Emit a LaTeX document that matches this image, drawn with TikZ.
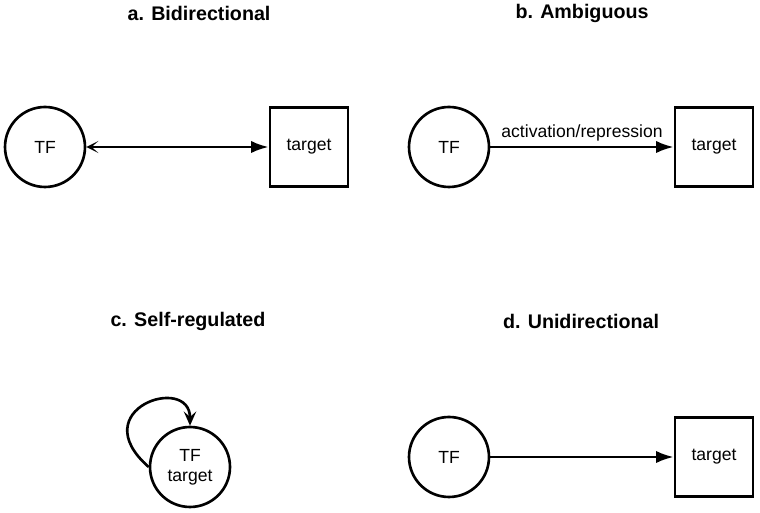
\documentclass[tikz,border=0pt]{standalone}
\usepackage{fontspec}
\setmainfont{Liberation Sans}
\usetikzlibrary{arrows.meta}

\begin{document}
\begin{tikzpicture}[x=0.02cm,y=0.02cm,
    tf/.style={circle,draw,line width=1.5pt,minimum size=1.6cm,inner sep=0pt,font=\fontsize{10}{11.5}\selectfont},
    gene/.style={rectangle,draw,line width=1.5pt,minimum width=1.56cm,minimum height=1.58cm,inner sep=0pt,font=\fontsize{10}{11.5}\selectfont},
    heading/.style={font=\fontsize{11.2}{13}\selectfont\bfseries},
    arr/.style={line width=1.5pt,-{Latex[length=10pt,width=7pt]}}]
  \useasboundingbox (0,0) rectangle (760,513);

  % a. Bidirectional
  \node[heading] (ta) at (199,500) {a. Bidirectional};
  \node[tf] (tfa) at (45,366) {TF};
  \node[gene] (ga) at (309,366) {target};
  \draw[line width=1.5pt,{Stealth[length=7pt,width=7pt,inset=4pt]}-{Latex[length=10pt,width=7pt]}] (tfa) -- (ga);

  % b. Ambiguous
  \node[heading] (tb) at (582,500) {b. Ambiguous};
  \node[tf] (tfb) at (449,366) {TF};
  \node[gene] (gb) at (714,366) {target};
  \draw[arr] (tfb) -- node[above,inner sep=2.5pt,font=\fontsize{10}{11.5}\selectfont] (lb) {activation/repression} (gb);

  % c. Self-regulated
  \node[heading] (tc) at (188,192) {c. Self-regulated};
  \node[tf,align=center] (self) at (190,46) {TF\\target};
  \draw[line width=1.5pt,-{Stealth[length=8pt,width=7pt,inset=3pt]}] (self.west) .. controls +(-66,58) and +(0,52) .. (self.north);

  % d. Unidirectional
  \node[heading] (td) at (581,192) {d. Unidirectional};
  \node[tf] (tfd) at (449,56) {TF};
  \node[gene] (gd) at (714,56) {target};
  \draw[arr] (tfd) -- (gd);
\end{tikzpicture}
\end{document}
